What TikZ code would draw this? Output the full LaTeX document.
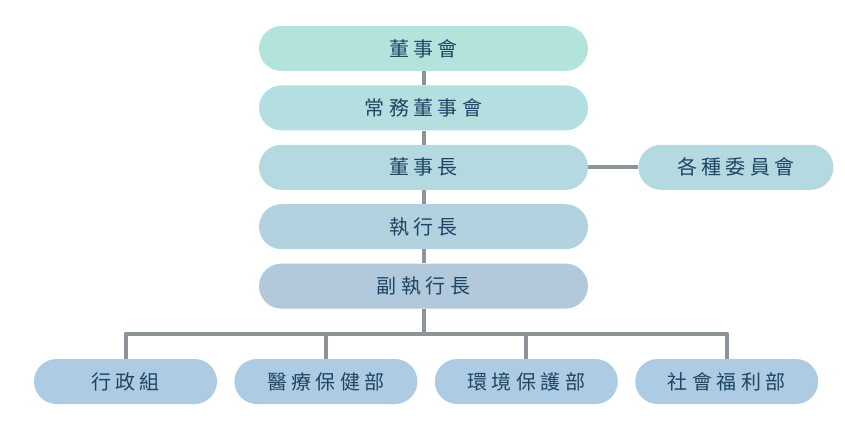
\documentclass[tikz,border=0pt]{standalone}
\usepackage{fontspec}
\setmainfont{Noto Sans CJK TC}[LetterSpace=22]
\usetikzlibrary{positioning}
\definecolor{boardColor}{RGB}{178,228,220}
\definecolor{standingColor}{RGB}{179,223,225}
\definecolor{chairColor}{RGB}{180,217,225}
\definecolor{ceoColor}{RGB}{178,210,223}
\definecolor{deputyColor}{RGB}{178,201,219}
\definecolor{deptColor}{RGB}{173,203,227}
\definecolor{textColor}{RGB}{30,70,100}
\definecolor{lineColor}{RGB}{140,147,153}
\tikzset{unit/.style={draw=none, text=textColor, font=\fontsize{20}{24}\selectfont, minimum width=329pt, minimum height=45pt, rounded corners=22.5pt, inner sep=0pt}}
\tikzset{dept/.style={unit, fill=deptColor, minimum width=183pt}}
\tikzset{link/.style={draw=lineColor, line width=4pt, line join=round}}

\begin{document}
\begin{tikzpicture}[node distance=14pt]
	\useasboundingbox (0,0) rectangle (845pt,-422pt);
	% Nodes
		\node (board) [unit, fill=boardColor] at (423.5pt,-48.5pt) {董事會};
		\node (standing) [unit, fill=standingColor, below=of board] {常務董事會};
		\node (chairman) [unit, fill=chairColor, below=of standing] {董事長};
		\node (ceo) [unit, fill=ceoColor, below=of chairman] {執行長};
		\node (deputy) [unit, fill=deputyColor, below=of ceo] {副執行長};

		\node (committee) [unit, fill=chairColor, minimum width=195pt, right=50pt of chairman] {各種委員會};

		\coordinate [below=25pt of deputy] (bus);

		\node (admin) [dept] at (125.5pt,-381.5pt) {行政組};
		\node (medical) [dept, right=17pt of admin] {醫療保健部};
		\node (environment) [dept, right=17pt of medical] {環境保護部};
		\node (welfare) [dept, right=17pt of environment] {社會福利部};

		% Connectors
		\begin{scope}[link]
		\draw (board) -- (standing);
		\draw (standing) -- (chairman);
		\draw (chairman) -- (ceo);
		\draw (ceo) -- (deputy);
		\draw (chairman) -- (committee);

		\draw (deputy) -- (bus);
		\draw (admin.north) |- (bus) -| (welfare.north);
		\draw (medical.north) -- (medical.north |- bus);
		\draw (environment.north) -- (environment.north |- bus);
		\end{scope}

\end{tikzpicture}
\end{document}
